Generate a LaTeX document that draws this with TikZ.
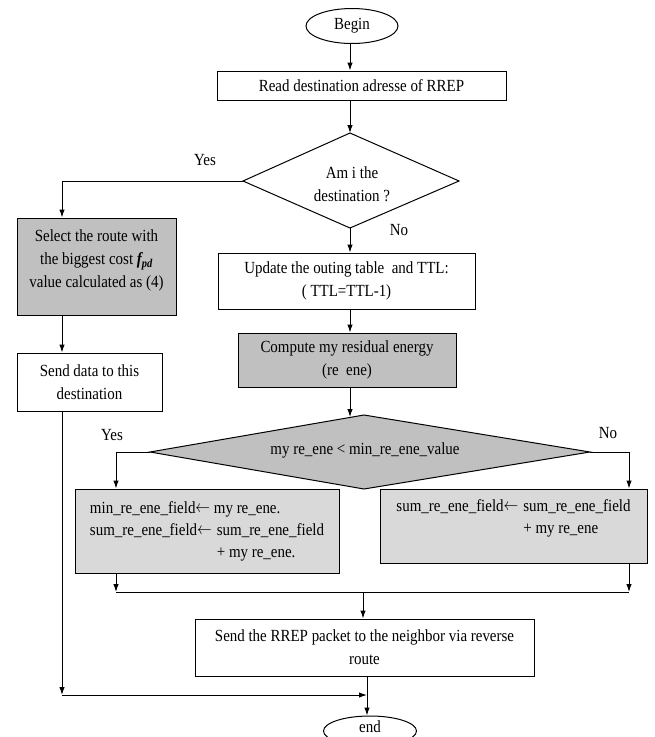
\documentclass[tikz,border=0pt]{standalone}
\usepackage{fontspec}
\setmainfont[FakeStretch=0.88]{Liberation Serif}
\usetikzlibrary{shapes.geometric,arrows.meta}
\definecolor{greyA}{RGB}{192,192,192}
\definecolor{greyB}{RGB}{217,217,217}
\newcommand\fsz{\fontsize{17}{23}\selectfont}
\newcommand\fszb{\fontsize{17}{22}\selectfont}
\newcommand\larr{\raisebox{0.5pt}{\scalebox{0.85}[1]{$\leftarrow$}}}
\tikzset{
  x=1pt, y=-1pt,
  ln/.style={line width=1pt, draw=black},
  arr/.style={ln, -{Latex[length=8pt,width=5.5pt]}},
  boxnode/.style={ln, rectangle, inner sep=0pt, align=center, font=\fsz},
  greyfill/.style={fill=greyA},
  lightfill/.style={fill=greyB},
  lbl/.style={inner sep=0pt, font=\fsz},
  endnode/.style={ln, ellipse, inner sep=0pt, font=\fsz, fill=white}
}
\begin{document}
\begin{tikzpicture}
\useasboundingbox (0,0) rectangle (654,737);
\fill[white] (0,0) rectangle (654,737);

% axis coordinates
\coordinate (ax) at (350,0);
\coordinate (lx) at (62,0);
\coordinate (lbx) at (116,0);
\coordinate (rbx) at (629,0);
\coordinate (ex) at (367,0);

% nodes
\node[endnode, minimum width=92pt, minimum height=35pt] (begin) at (352,26) {Begin};
\node[boxnode, minimum width=289pt, minimum height=29pt] (read) at (361.5,85.5) {Read destination adresse of RREP};

\coordinate (d1t) at (350,133);
\coordinate (d1r) at (459,181);
\coordinate (d1b) at (350,228);
\coordinate (d1l) at (243,181);
\draw[ln, line join=miter] (d1t) -- (d1r) -- (d1b) -- (d1l) -- cycle;
\node[lbl, align=center] (d1) at (352,184) {Am i the\\destination ?};

\node[boxnode, greyfill, minimum width=159pt, minimum height=97pt] (select) at (96.5,266.5)
  {Select the route with\\the biggest cost \textbf{\textit{f\textsubscript{pd}}}\\value calculated as (4)\\[-8pt]};
\node[boxnode, minimum width=145pt, minimum height=58pt] (send) at (89.5,382) {Send data to this\\destination};

\node[boxnode, minimum width=257pt, minimum height=56pt] (update) at (346.5,281)
  {Update the outing table \ and TTL:\\( TTL=TTL-1)};
\node[boxnode, greyfill, minimum width=218pt, minimum height=54pt] (compute) at (347,360)
  {Compute my residual energy\\(re \ ene)};

\coordinate (d2t) at (364,415);
\coordinate (d2r) at (590,452);
\coordinate (d2b) at (364,489);
\coordinate (d2l) at (150,452);
\coordinate (d2in) at (350,417);
\draw[ln, fill=greyA, line join=miter] (d2t) -- (d2r) -- (d2b) -- (d2l) -- cycle;
\node[lbl] (d2) at (365,450) {my re\_ene < min\_re\_ene\_value};

\node[boxnode, lightfill, minimum width=264pt, minimum height=84pt, align=left] (lbox) at (207,531)
  {\fszb\begin{tabular}{@{}l@{\hspace{5pt}}l@{}}
   \multicolumn{2}{@{}l@{}}{min\_re\_ene\_field\larr\ my re\_ene.}\\
   sum\_re\_ene\_field\larr & sum\_re\_ene\_field\\
   & + my re\_ene.
  \end{tabular}};
\node[boxnode, lightfill, minimum width=267pt, minimum height=74pt, align=left] (rbox) at (513.5,526)
  {\fszb\begin{tabular}{@{}l@{\hspace{5pt}}l@{}}
   sum\_re\_ene\_field\larr & sum\_re\_ene\_field\\
   & + my re\_ene\\[-6pt]
   &
  \end{tabular}};

\node[boxnode, minimum width=339pt, minimum height=57pt] (rrep) at (364.5,647.5)
  {Send the RREP packet to the neighbor via reverse\\route};
\node[endnode, minimum width=93pt, minimum height=30pt] (end) at (370,731) {};
\node[lbl] (endtxt) at (370,727) {end};

% labels
\node[lbl] (yes1) at (205,160) {Yes};
\node[lbl, fill=white, inner sep=2pt] (no1) at (399,230) {No};
\node[lbl] (yes2) at (112,435) {Yes};
\node[lbl] (no2) at (608,433) {No};

% merge coordinates
\coordinate (mL) at (116,592);
\coordinate (mR) at (629,592);
\coordinate (mM) at (363,592);
\coordinate (cL) at (62,695);

% connectors
\draw[arr] (begin.south -| ax) -- (read.north -| ax);
\draw[arr] (read.south -| d1t) -- (d1t);
\draw[arr] (d1l) -| (select.north -| lx);
\draw[arr] (select.south -| lx) -- (send.north -| lx);
\draw[arr] (d1b) -- (update.north -| d1b);
\draw[arr] (update.south -| d1b) -- (compute.north -| d1b);
\draw[arr] (compute.south -| d1b) -- (d2in);
\draw[arr] (d2l) -| (lbox.north -| lbx);
\draw[arr] (d2r) -| (rbox.north -| rbx);
\draw[arr] (lbox.south -| lbx) -- (mL);
\draw[arr] (rbox.south -| rbx) -- (mR);
\draw[ln] (mL) -- (mR);
\draw[arr] (mM) -- (rrep.north -| mM);
\draw[arr] (send.south -| lx) -- (cL);
\draw[arr] (rrep.south -| ex) -- (end.north -| ex);
\draw[arr] (cL) -- (cL -| ex);
\end{tikzpicture}
\end{document}
